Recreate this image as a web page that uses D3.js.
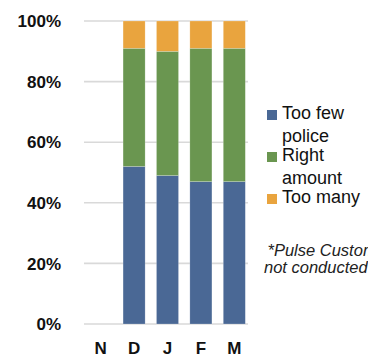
<!DOCTYPE html>
<html>
<head>
<meta charset="utf-8">
<script src="https://cdn.jsdelivr.net/npm/d3@7"></script>
<style>
  html, body { margin: 0; padding: 0; background: #fff; }
  svg { display: block; }
  text { font-family: "Liberation Sans", Arial, Helvetica, sans-serif; }
</style>
</head>
<body>
<svg id="chart" width="368" height="357"></svg>
<script>
// Survey months (N had no survey, so it carries no values)
const months = ["N", "D", "J", "F", "M"];
const tooFew = [null, 52, 49, 47, 47];
const rightAmount = [null, 39, 41, 44, 44];
const tooMany = [null, 9, 10, 9, 9];
const yTicks = [0, 20, 40, 60, 80, 100];
const seriesNames = ["Too few police", "Right amount", "Too many"];
const seriesColors = ["#4a6895", "#6a9650", "#e9a43e"];
const footnote = ["*Pulse Customer Survey", "not conducted in Nov"];

const svg = d3.select("#chart");

const x = d3.scaleBand()
  .domain(months)
  .range([84, 251])
  .paddingInner(0.34)
  .paddingOuter(0.17);

const y = d3.scaleLinear().domain([0, 100]).range([324, 21]);

// gridlines
svg.append("g")
  .selectAll("line")
  .data(yTicks)
  .join("line")
  .attr("x1", 84)
  .attr("x2", 248)
  .attr("y1", d => y(d))
  .attr("y2", d => y(d))
  .attr("stroke", "#d9d9d9")
  .attr("stroke-width", 1.6);

// y tick labels
svg.append("g")
  .selectAll("text")
  .data(yTicks)
  .join("text")
  .attr("x", 61)
  .attr("y", d => y(d))
  .attr("dy", "0.36em")
  .attr("text-anchor", "end")
  .attr("font-size", 17)
  .attr("font-weight", "bold")
  .attr("fill", "#111")
  .text(d => d + "%");

// stacked bars
const rows = months.map((m, i) => ({
  month: m,
  few: tooFew[i],
  right: rightAmount[i],
  many: tooMany[i]
})).filter(r => r.few !== null);

const stack = d3.stack().keys(["few", "right", "many"]);
const layers = stack(rows);

svg.append("g")
  .selectAll("g")
  .data(layers)
  .join("g")
  .attr("fill", (d, i) => seriesColors[i])
  .selectAll("rect")
  .data(d => d)
  .join("rect")
  .attr("x", d => x(d.data.month))
  .attr("width", x.bandwidth())
  .attr("y", d => y(d[1]))
  .attr("height", d => y(d[0]) - y(d[1]))
  .attr("stroke", "#ffffff")
  .attr("stroke-opacity", 0.35)
  .attr("stroke-width", 0.6);

// x labels
svg.append("g")
  .selectAll("text")
  .data(months)
  .join("text")
  .attr("x", d => x(d) + x.bandwidth() / 2)
  .attr("y", 354)
  .attr("text-anchor", "middle")
  .attr("font-size", 17)
  .attr("font-weight", "bold")
  .attr("fill", "#111")
  .text(d => d);

// legend (names wrap onto two lines where needed)
const legendLines = [["Too few", "police"], ["Right", "amount"], ["Too many"]];
const legendTop = [119, 161, 203];
const lg = svg.append("g");
legendLines.forEach((lines, i) => {
  lg.append("rect")
    .attr("x", 267)
    .attr("y", legendTop[i] - 9)
    .attr("width", 10)
    .attr("height", 10)
    .attr("fill", seriesColors[i]);
  lines.forEach((t, j) => {
    lg.append("text")
      .attr("x", 282)
      .attr("y", legendTop[i] + j * 22.5)
      .attr("font-size", 18)
      .attr("fill", "#111")
      .text(t);
  });
});

// footnote, running past the right edge
svg.append("g")
  .selectAll("text")
  .data(footnote)
  .join("text")
  .attr("x", (d, i) => i === 0 ? 267.5 : 264)
  .attr("y", (d, i) => 256 + i * 16.5)
  .attr("font-size", 16.5)
  .attr("font-style", "italic")
  .attr("fill", "#222")
  .text(d => d);
</script>
</body>
</html>
